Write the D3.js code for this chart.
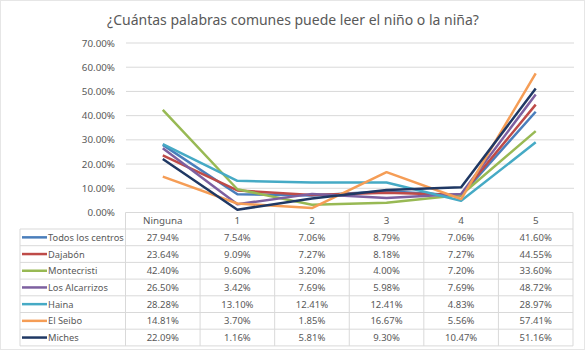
<!DOCTYPE html>
<html><head><meta charset="utf-8">
<script src="https://cdn.jsdelivr.net/npm/d3@7"></script>
<style>
html,body{margin:0;padding:0;background:#fff;}
svg{display:block;font-family:"Noto Sans","Open Sans",sans-serif;}
</style></head>
<body>
<svg id="c" width="586" height="351"></svg>
<script>
const categories = ["Ninguna","1","2","3","4","5"];
const seriesNames = ["Todos los centros","Dajabón","Montecristi","Los Alcarrizos","Haina","El Seibo","Miches"];
const todos = [27.94,7.54,7.06,8.79,7.06,41.60];
const dajabon = [23.64,9.09,7.27,8.18,7.27,44.55];
const montecristi = [42.40,9.60,3.20,4.00,7.20,33.60];
const alcarrizos = [26.50,3.42,7.69,5.98,7.69,48.72];
const haina = [28.28,13.10,12.41,12.41,4.83,28.97];
const seibo = [14.81,3.70,1.85,16.67,5.56,57.41];
const miches = [22.09,1.16,5.81,9.30,10.47,51.16];
const yTicks = [0,10,20,30,40,50,60,70];
const colors = ["#4a7ebb","#be4b48","#98b954","#7d60a0","#46aac5","#f59d56","#1f3864"];
const title = "¿Cuántas palabras comunes puede leer el niño o la niña?";

const values = [todos,dajabon,montecristi,alcarrizos,haina,seibo,miches];
const svg = d3.select("#c");
const textColor = "#595959";
const gridColor = "#d9d9d9";

svg.append("rect").attr("x",0.5).attr("y",0.5).attr("width",584).attr("height",349)
  .attr("fill","none").attr("stroke","#e6e6e6");

svg.append("text").attr("x",293).attr("y",25).attr("text-anchor","middle")
  .attr("font-size",14).attr("fill","#595959").text(title);

const x = d3.scaleBand().domain(categories).range([125.5,573]);
const y = d3.scaleLinear().domain([0,70]).range([212.5,43]);

svg.append("g").selectAll("line").data(yTicks.filter(d=>d>0)).join("line")
  .attr("x1",126).attr("x2",574).attr("y1",d=>y(d)).attr("y2",d=>y(d))
  .attr("stroke",gridColor).attr("stroke-width",1);

const yAxis = d3.axisLeft(y).tickValues(yTicks).tickSize(0).tickPadding(0)
  .tickFormat(d=>d.toFixed(2)+"%");
const gy = svg.append("g").attr("transform","translate(115,0)").call(yAxis);
gy.select(".domain").remove();
gy.selectAll("text").attr("fill",textColor).attr("font-size",9.8)
  .attr("font-family","Noto Sans, sans-serif");

const line = d3.line().x((d,i)=>x(categories[i])+x.bandwidth()/2).y(d=>y(d));
svg.append("g").selectAll("path").data(values).join("path")
  .attr("d",d=>line(d)).attr("fill","none")
  .attr("stroke",(d,i)=>colors[i]).attr("stroke-width",2.5)
  .attr("stroke-linejoin","round");

const tTop = 212.5, headH = 16.5, rowH = 16.7;
const tableLeft = 20;
const tg = svg.append("g");
const nRows = seriesNames.length;
const tBottom = tTop + headH + nRows*rowH;
tg.append("line").attr("x1",125.5).attr("x2",573).attr("y1",tTop).attr("y2",tTop).attr("stroke",gridColor);
d3.range(nRows+1).forEach(i=>{
  const yy = tTop+headH+i*rowH;
  tg.append("line").attr("x1",tableLeft).attr("x2",573).attr("y1",yy).attr("y2",yy).attr("stroke",gridColor);
});
tg.append("line").attr("x1",tableLeft).attr("x2",tableLeft).attr("y1",tTop+headH).attr("y2",tBottom).attr("stroke",gridColor);
categories.forEach(c=>{
  tg.append("line").attr("x1",x(c)).attr("x2",x(c)).attr("y1",tTop).attr("y2",tBottom).attr("stroke",gridColor);
});
tg.append("line").attr("x1",573).attr("x2",573).attr("y1",tTop).attr("y2",tBottom).attr("stroke",gridColor);

tg.selectAll("text.h").data(categories).join("text").attr("class","h")
  .attr("x",d=>x(d)+x.bandwidth()/2).attr("y",tTop+headH/2+3.5)
  .attr("text-anchor","middle").attr("font-size",9.8).attr("fill",textColor).text(d=>d);

seriesNames.forEach((name,i)=>{
  const cy = tTop+headH+i*rowH+rowH/2;
  tg.append("line").attr("x1",22).attr("x2",47).attr("y1",cy).attr("y2",cy)
    .attr("stroke",colors[i]).attr("stroke-width",2.5);
  tg.append("text").attr("x",48).attr("y",cy+3.6).attr("font-size",9.3)
    .attr("fill",textColor).text(name);
  values[i].forEach((v,j)=>{
    tg.append("text").attr("x",x(categories[j])+x.bandwidth()/2).attr("y",cy+3.5)
      .attr("text-anchor","middle").attr("font-size",9.5).attr("fill",textColor)
      .text(v.toFixed(2)+"%");
  });
});
</script>
</body></html>
